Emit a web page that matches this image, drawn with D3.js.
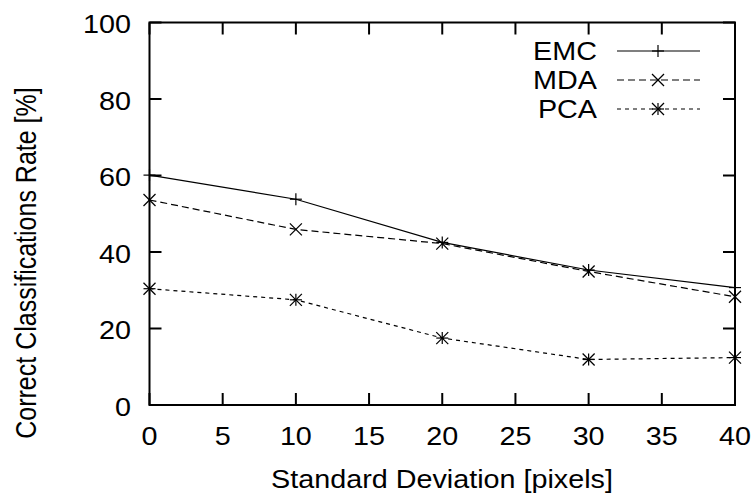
<!DOCTYPE html>
<html>
<head>
    <script src="https://d3js.org/d3.v7.min.js"></script>
    <style>
        body { margin: 0; background: #fff; }
        text { font-family: "Liberation Sans", Arial, sans-serif; fill: #000; }
    </style>
</head>
<body>
    <svg width="756" height="499"></svg>
    <script>
        const xs = [0, 10, 20, 30, 40];
        const emc = [60.1, 53.8, 42.5, 35.3, 30.7];
        const mda = [53.6, 45.9, 42.2, 34.9, 28.3];
        const pca = [30.4, 27.5, 17.5, 11.9, 12.4];
        const names = ["EMC", "MDA", "PCA"];
        const xTicks = [0, 5, 10, 15, 20, 25, 30, 35, 40];
        const yTicks = [0, 20, 40, 60, 80, 100];

        const width = 756, height = 499;
        const plotL = 149.5, plotR = 735, plotT = 22.5, plotB = 405;
        const fontSize = 25, sx = 1.15; // glyphs look a bit wider than tall

        const svg = d3.select("svg");
        const x = d3.scaleLinear().domain([0, 40]).range([plotL, plotR]);
        const y = d3.scaleLinear().domain([0, 100]).range([plotB, plotT]);

        const series = [
            { name: names[0], vals: emc, dash: null, mark: "plus" },
            { name: names[1], vals: mda, dash: "7,4", mark: "cross" },
            { name: names[2], vals: pca, dash: "4,4", mark: "star" }
        ];

        function label(tx, ty, anchor, str, rot) {
            svg.append("text")
                .attr("transform", "translate(" + tx + "," + ty + ") scale(" + sx + ",1)" + (rot ? " rotate(" + rot + ")" : ""))
                .attr("text-anchor", anchor).attr("font-size", fontSize)
                .text(str);
        }

        // inward ticks on all four sides
        const tk = 12;
        const axes = svg.append("g").attr("stroke", "#000").attr("stroke-width", 2);
        xTicks.forEach(t => {
            axes.append("line").attr("x1", x(t)).attr("x2", x(t)).attr("y1", plotB).attr("y2", plotB - tk);
            axes.append("line").attr("x1", x(t)).attr("x2", x(t)).attr("y1", plotT).attr("y2", plotT + tk);
        });
        yTicks.forEach(t => {
            axes.append("line").attr("x1", plotL).attr("x2", plotL + tk).attr("y1", y(t)).attr("y2", y(t));
            axes.append("line").attr("x1", plotR).attr("x2", plotR - tk).attr("y1", y(t)).attr("y2", y(t));
        });
        axes.append("rect").attr("x", plotL).attr("y", plotT)
            .attr("width", plotR - plotL).attr("height", plotB - plotT).attr("fill", "none");

        xTicks.forEach(t => label(x(t), 445, "middle", t));
        yTicks.forEach(t => label(131, y(t) + 10.5, "end", t));

        label(442, 488, "middle", "Standard Deviation [pixels]");
        label(36, 263, "middle", "Correct Classifications Rate [%]", -90);

        function marker(g, cx, cy, type) {
            const s = 6;
            const p = [];
            if (type === "plus" || type === "star") {
                p.push([cx - s, cy, cx + s, cy], [cx, cy - s, cx, cy + s]);
            }
            if (type === "cross" || type === "star") {
                p.push([cx - s, cy - s, cx + s, cy + s], [cx - s, cy + s, cx + s, cy - s]);
            }
            p.forEach(l => g.append("line")
                .attr("x1", l[0]).attr("y1", l[1]).attr("x2", l[2]).attr("y2", l[3])
                .attr("stroke", "#000").attr("stroke-width", 1.2));
        }

        const line = d3.line().x((d, i) => x(xs[i])).y(d => y(d));
        series.forEach((s, k) => {
            svg.append("path")
                .attr("d", line(s.vals))
                .attr("fill", "none").attr("stroke", "#000").attr("stroke-width", 1.2)
                .attr("stroke-dasharray", s.dash);
            const g = svg.append("g");
            s.vals.forEach((v, i) => marker(g, x(xs[i]), y(v), s.mark));

            // legend row
            const ly = 51 + k * 29;
            label(597, ly + 8.5, "end", s.name);
            svg.append("line")
                .attr("x1", 617).attr("x2", 700).attr("y1", ly).attr("y2", ly)
                .attr("stroke", "#000").attr("stroke-width", 1.2)
                .attr("stroke-dasharray", s.dash);
            marker(g, 658, ly, s.mark);
        });
    </script>
</body>
</html>
